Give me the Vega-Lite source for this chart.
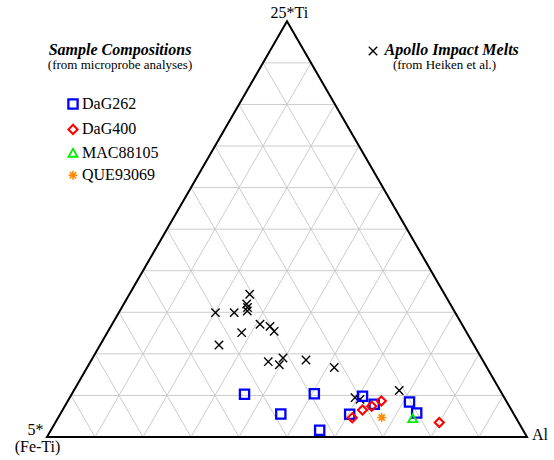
{
  "$schema": "https://vega.github.io/schema/vega-lite/v6.json",
  "width": 554,
  "height": 460,
  "autosize": {"type": "fit", "contains": "padding"},
  "padding": 0,
  "background": "white",
  "config": {
    "view": {"stroke": null},
    "font": "'Liberation Serif', 'Times New Roman', Times, serif",
    "legend": {
      "orient": "none",
      "legendX": 65,
      "legendY": 96,
      "padding": 0,
      "labelFont": "'Liberation Serif', 'Times New Roman', Times, serif",
      "labelFontSize": 16,
      "labelColor": "black",
      "rowPadding": 6.4,
      "labelOffset": 1
    }
  },
  "datasets": {
    "grid": [
      {"x": 0.05, "y": 0.0866, "x2": 0.95, "y2": 0.0866},
      {"x": 0.1, "y": 0.1732, "x2": 0.9, "y2": 0.1732},
      {"x": 0.15, "y": 0.2598, "x2": 0.85, "y2": 0.2598},
      {"x": 0.2, "y": 0.3464, "x2": 0.8, "y2": 0.3464},
      {"x": 0.25, "y": 0.433, "x2": 0.75, "y2": 0.433},
      {"x": 0.3, "y": 0.5196, "x2": 0.7, "y2": 0.5196},
      {"x": 0.35, "y": 0.6062, "x2": 0.65, "y2": 0.6062},
      {"x": 0.4, "y": 0.6928, "x2": 0.6, "y2": 0.6928},
      {"x": 0.45, "y": 0.7794, "x2": 0.55, "y2": 0.7794},
      {"x": 0.1, "y": 0, "x2": 0.55, "y2": 0.7794},
      {"x": 0.2, "y": 0, "x2": 0.6, "y2": 0.6928},
      {"x": 0.3, "y": 0, "x2": 0.65, "y2": 0.6062},
      {"x": 0.4, "y": 0, "x2": 0.7, "y2": 0.5196},
      {"x": 0.5, "y": 0, "x2": 0.75, "y2": 0.433},
      {"x": 0.6, "y": 0, "x2": 0.8, "y2": 0.3464},
      {"x": 0.7, "y": 0, "x2": 0.85, "y2": 0.2598},
      {"x": 0.8, "y": 0, "x2": 0.9, "y2": 0.1732},
      {"x": 0.9, "y": 0, "x2": 0.95, "y2": 0.0866},
      {"x": 0.1, "y": 0, "x2": 0.05, "y2": 0.0866},
      {"x": 0.2, "y": 0, "x2": 0.1, "y2": 0.1732},
      {"x": 0.3, "y": 0, "x2": 0.15, "y2": 0.2598},
      {"x": 0.4, "y": 0, "x2": 0.2, "y2": 0.3464},
      {"x": 0.5, "y": 0, "x2": 0.25, "y2": 0.433},
      {"x": 0.6, "y": 0, "x2": 0.3, "y2": 0.5196},
      {"x": 0.7, "y": 0, "x2": 0.35, "y2": 0.6062},
      {"x": 0.8, "y": 0, "x2": 0.4, "y2": 0.6928},
      {"x": 0.9, "y": 0, "x2": 0.45, "y2": 0.7794}
    ],
    "border": [
      {"order": 0, "x": 0.5, "y": 0},
      {"order": 1, "x": 1, "y": 0},
      {"order": 2, "x": 0.5, "y": 0.866025},
      {"order": 3, "x": 0, "y": 0},
      {"order": 4, "x": 0.5, "y": 0}
    ],
    "apollo": [
      {"x": 0.4223, "y": 0.2975},
      {"x": 0.416, "y": 0.2771},
      {"x": 0.4177, "y": 0.2698},
      {"x": 0.4173, "y": 0.2625},
      {"x": 0.351, "y": 0.259},
      {"x": 0.39, "y": 0.259},
      {"x": 0.4438, "y": 0.2348},
      {"x": 0.4646, "y": 0.2304},
      {"x": 0.4733, "y": 0.2202},
      {"x": 0.4056, "y": 0.2173},
      {"x": 0.3583, "y": 0.1917},
      {"x": 0.461, "y": 0.1569},
      {"x": 0.4917, "y": 0.1646},
      {"x": 0.484, "y": 0.1506},
      {"x": 0.5396, "y": 0.1604},
      {"x": 0.5985, "y": 0.1448},
      {"x": 0.6417, "y": 0.0819},
      {"x": 0.6521, "y": 0.0785},
      {"x": 0.7338, "y": 0.0969}
    ],
    "apolloKey": [
      {"x": 0.6792, "y": 0.8042}
    ],
    "samples": [
      {"sample": "DaG262", "x": 0.4115, "y": 0.089},
      {"sample": "DaG262", "x": 0.5569, "y": 0.0902},
      {"sample": "DaG262", "x": 0.6573, "y": 0.085},
      {"sample": "DaG262", "x": 0.6817, "y": 0.0681},
      {"sample": "DaG262", "x": 0.7552, "y": 0.0729},
      {"sample": "DaG262", "x": 0.7702, "y": 0.05},
      {"sample": "DaG262", "x": 0.4871, "y": 0.0479},
      {"sample": "DaG262", "x": 0.6306, "y": 0.0475},
      {"sample": "DaG262", "x": 0.5681, "y": 0.014},
      {"sample": "DaG400", "x": 0.636, "y": 0.0402},
      {"sample": "DaG400", "x": 0.6573, "y": 0.0563},
      {"sample": "DaG400", "x": 0.6765, "y": 0.064},
      {"sample": "DaG400", "x": 0.6965, "y": 0.075},
      {"sample": "DaG400", "x": 0.8173, "y": 0.0302},
      {"sample": "MAC88105", "x": 0.7619, "y": 0.039},
      {"sample": "QUE93069", "x": 0.6973, "y": 0.0406}
    ],
    "titles": [
      {"text": "Sample Compositions", "x": 0.1521, "y": 0.7958},
      {"text": "Apollo Impact Melts", "x": 0.8431, "y": 0.7958}
    ],
    "subtitles": [
      {"text": "(from microprobe analyses)", "x": 0.1521, "y": 0.7667},
      {"text": "(from Heiken et al.)", "x": 0.8281, "y": 0.7667}
    ],
    "vertices": [
      {"text": "25*Ti", "x": 0.505, "y": 0.8723},
      {"text": "5*", "x": -0.024, "y": 0.0042},
      {"text": "(Fe-Ti)", "x": -0.0198, "y": -0.0313},
      {"text": "Al", "x": 1.0271, "y": -0.00625}
    ]
  },
  "encoding": {
    "x": {"field": "x", "type": "quantitative", "scale": {"domain": [-0.097917, 1.05625], "nice": false, "zero": false}, "axis": null},
    "y": {"field": "y", "type": "quantitative", "scale": {"domain": [-0.047917, 0.910417], "nice": false, "zero": false}, "axis": null}
  },
  "layer": [
    {
      "data": {"name": "grid"},
      "mark": {"type": "rule", "stroke": "#cccccc", "strokeWidth": 1},
      "encoding": {"x2": {"field": "x2"}, "y2": {"field": "y2"}}
    },
    {
      "data": {"name": "border"},
      "mark": {"type": "line", "stroke": "black", "strokeWidth": 2, "strokeJoin": "miter", "strokeMiterLimit": 20},
      "encoding": {"order": {"field": "order", "type": "quantitative"}}
    },
    {
      "data": {"name": "apollo"},
      "mark": {"type": "point", "shape": "M-1,-1L1,1M-1,1L1,-1", "stroke": "black", "strokeWidth": 1.4, "size": 70, "filled": false, "opacity": 1}
    },
    {
      "data": {"name": "apolloKey"},
      "mark": {"type": "point", "shape": "M-1,-1L1,1M-1,1L1,-1", "stroke": "black", "strokeWidth": 1.4, "size": 70, "filled": false, "opacity": 1}
    },
    {
      "data": {"name": "samples"},
      "mark": {"type": "point", "filled": false, "opacity": 1},
      "encoding": {
        "shape": {
          "field": "sample", "type": "nominal", "title": null,
          "scale": {"domain": ["DaG262", "DaG400", "MAC88105", "QUE93069"], "range": ["square", "diamond", "triangle-up", "M-1,0L1,0M0,-1L0,1M-0.7,-0.7L0.7,0.7M-0.7,0.7L0.7,-0.7"]}
        },
        "color": {
          "field": "sample", "type": "nominal", "title": null,
          "scale": {"domain": ["DaG262", "DaG400", "MAC88105", "QUE93069"], "range": ["#0000ff", "#ff0000", "#00ee00", "#ff8c00"]}
        },
        "size": {
          "field": "sample", "type": "nominal", "title": null,
          "scale": {"domain": ["DaG262", "DaG400", "MAC88105", "QUE93069"], "range": [85, 80, 100, 120]}
        },
        "strokeWidth": {
          "field": "sample", "type": "nominal", "title": null,
          "scale": {"domain": ["DaG262", "DaG400", "MAC88105", "QUE93069"], "range": [2.3, 1.6, 1.6, 1.8]}
        }
      }
    },
    {
      "data": {"name": "titles"},
      "mark": {"type": "text", "font": "'Liberation Serif', 'Times New Roman', Times, serif", "fontSize": 16, "fontWeight": "bold", "fontStyle": "italic", "align": "center", "baseline": "alphabetic", "color": "black"},
      "encoding": {"text": {"field": "text"}}
    },
    {
      "data": {"name": "subtitles"},
      "mark": {"type": "text", "font": "'Liberation Serif', 'Times New Roman', Times, serif", "fontSize": 13, "align": "center", "baseline": "alphabetic", "color": "black"},
      "encoding": {"text": {"field": "text"}}
    },
    {
      "data": {"name": "vertices"},
      "mark": {"type": "text", "font": "'Liberation Serif', 'Times New Roman', Times, serif", "fontSize": 16, "align": "center", "baseline": "alphabetic", "color": "black"},
      "encoding": {"text": {"field": "text"}}
    }
  ]
}
